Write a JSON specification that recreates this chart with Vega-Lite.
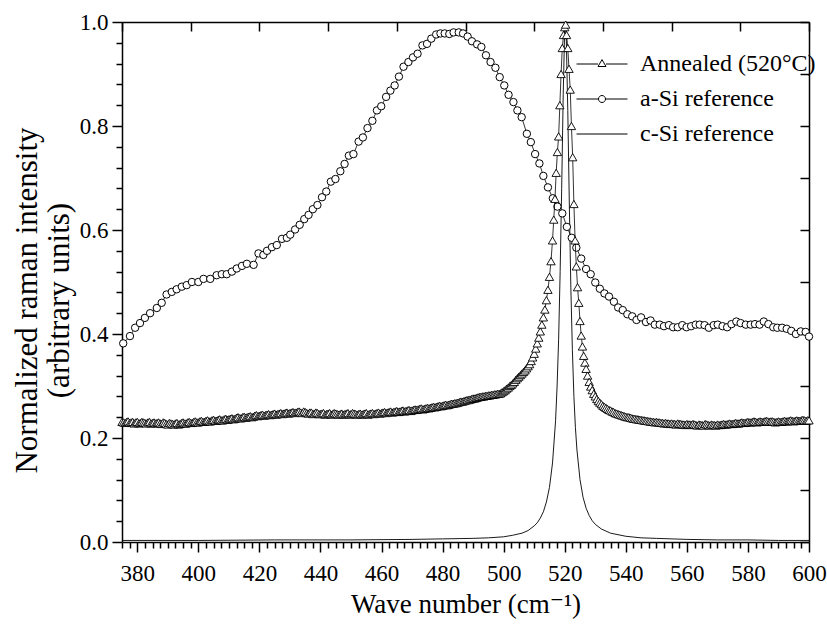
{
"$schema": "https://vega.github.io/schema/vega-lite/v6.json",
"width": 687, "height": 520,
"autosize": {"type": "none"},
"padding": {"left": 122, "top": 22, "right": 18, "bottom": 84},
"background": "white",
"datasets": {
"ann": [{"x":375,"y":0.231},{"x":375.5,"y":0.230},{"x":376,"y":0.229},{"x":376.5,"y":0.231},{"x":377,"y":0.232},{"x":377.5,"y":0.229},{"x":378,"y":0.230},{"x":378.5,"y":0.231},{"x":379,"y":0.228},{"x":379.5,"y":0.230},{"x":380,"y":0.231},{"x":380.5,"y":0.228},{"x":381,"y":0.229},{"x":381.5,"y":0.231},{"x":382,"y":0.230},{"x":382.5,"y":0.229},{"x":383,"y":0.228},{"x":383.5,"y":0.230},{"x":384,"y":0.231},{"x":384.5,"y":0.228},{"x":385,"y":0.229},{"x":385.5,"y":0.230},{"x":386,"y":0.228},{"x":386.5,"y":0.229},{"x":387,"y":0.230},{"x":387.5,"y":0.228},{"x":388,"y":0.227},{"x":388.5,"y":0.230},{"x":389,"y":0.229},{"x":389.5,"y":0.227},{"x":390,"y":0.226},{"x":390.5,"y":0.229},{"x":391,"y":0.228},{"x":391.5,"y":0.227},{"x":392,"y":0.226},{"x":392.5,"y":0.228},{"x":393,"y":0.229},{"x":393.5,"y":0.226},{"x":394,"y":0.227},{"x":394.5,"y":0.229},{"x":395,"y":0.230},{"x":395.5,"y":0.228},{"x":396,"y":0.228},{"x":396.5,"y":0.230},{"x":397,"y":0.231},{"x":397.5,"y":0.229},{"x":398,"y":0.229},{"x":398.5,"y":0.231},{"x":399,"y":0.232},{"x":399.5,"y":0.230},{"x":400,"y":0.230},{"x":400.5,"y":0.232},{"x":401,"y":0.233},{"x":401.5,"y":0.231},{"x":402,"y":0.231},{"x":402.5,"y":0.233},{"x":403,"y":0.234},{"x":403.5,"y":0.232},{"x":404,"y":0.232},{"x":404.5,"y":0.234},{"x":405,"y":0.235},{"x":405.5,"y":0.233},{"x":406,"y":0.233},{"x":406.5,"y":0.235},{"x":407,"y":0.236},{"x":407.5,"y":0.234},{"x":408,"y":0.234},{"x":408.5,"y":0.236},{"x":409,"y":0.237},{"x":409.5,"y":0.235},{"x":410,"y":0.236},{"x":410.5,"y":0.237},{"x":411,"y":0.238},{"x":411.5,"y":0.236},{"x":412,"y":0.237},{"x":412.5,"y":0.239},{"x":413,"y":0.240},{"x":413.5,"y":0.238},{"x":414,"y":0.238},{"x":414.5,"y":0.240},{"x":415,"y":0.241},{"x":415.5,"y":0.239},{"x":416,"y":0.240},{"x":416.5,"y":0.241},{"x":417,"y":0.242},{"x":417.5,"y":0.240},{"x":418,"y":0.241},{"x":418.5,"y":0.243},{"x":419,"y":0.244},{"x":419.5,"y":0.242},{"x":420,"y":0.243},{"x":420.5,"y":0.244},{"x":421,"y":0.245},{"x":421.5,"y":0.243},{"x":422,"y":0.244},{"x":422.5,"y":0.245},{"x":423,"y":0.246},{"x":423.5,"y":0.244},{"x":424,"y":0.245},{"x":424.5,"y":0.246},{"x":425,"y":0.247},{"x":425.5,"y":0.245},{"x":426,"y":0.246},{"x":426.5,"y":0.247},{"x":427,"y":0.248},{"x":427.5,"y":0.246},{"x":428,"y":0.247},{"x":428.5,"y":0.248},{"x":429,"y":0.249},{"x":429.5,"y":0.247},{"x":430,"y":0.248},{"x":430.5,"y":0.249},{"x":431,"y":0.250},{"x":431.5,"y":0.248},{"x":432,"y":0.249},{"x":432.5,"y":0.250},{"x":433,"y":0.251},{"x":433.5,"y":0.249},{"x":434,"y":0.248},{"x":434.5,"y":0.251},{"x":435,"y":0.250},{"x":435.5,"y":0.248},{"x":436,"y":0.247},{"x":436.5,"y":0.249},{"x":437,"y":0.249},{"x":437.5,"y":0.246},{"x":438,"y":0.247},{"x":438.5,"y":0.249},{"x":439,"y":0.248},{"x":439.5,"y":0.246},{"x":440,"y":0.246},{"x":440.5,"y":0.247},{"x":441,"y":0.248},{"x":441.5,"y":0.245},{"x":442,"y":0.246},{"x":442.5,"y":0.247},{"x":443,"y":0.248},{"x":443.5,"y":0.245},{"x":444,"y":0.246},{"x":444.5,"y":0.248},{"x":445,"y":0.247},{"x":445.5,"y":0.246},{"x":446,"y":0.245},{"x":446.5,"y":0.246},{"x":447,"y":0.247},{"x":447.5,"y":0.245},{"x":448,"y":0.246},{"x":448.5,"y":0.247},{"x":449,"y":0.248},{"x":449.5,"y":0.245},{"x":450,"y":0.246},{"x":450.5,"y":0.248},{"x":451,"y":0.247},{"x":451.5,"y":0.246},{"x":452,"y":0.245},{"x":452.5,"y":0.246},{"x":453,"y":0.247},{"x":453.5,"y":0.245},{"x":454,"y":0.246},{"x":454.5,"y":0.247},{"x":455,"y":0.248},{"x":455.5,"y":0.245},{"x":456,"y":0.246},{"x":456.5,"y":0.247},{"x":457,"y":0.248},{"x":457.5,"y":0.246},{"x":458,"y":0.247},{"x":458.5,"y":0.248},{"x":459,"y":0.249},{"x":459.5,"y":0.247},{"x":460,"y":0.248},{"x":460.5,"y":0.249},{"x":461,"y":0.250},{"x":461.5,"y":0.248},{"x":462,"y":0.249},{"x":462.5,"y":0.250},{"x":463,"y":0.251},{"x":463.5,"y":0.249},{"x":464,"y":0.250},{"x":464.5,"y":0.251},{"x":465,"y":0.252},{"x":465.5,"y":0.250},{"x":466,"y":0.251},{"x":466.5,"y":0.252},{"x":467,"y":0.253},{"x":467.5,"y":0.251},{"x":468,"y":0.252},{"x":468.5,"y":0.253},{"x":469,"y":0.254},{"x":469.5,"y":0.252},{"x":470,"y":0.253},{"x":470.5,"y":0.254},{"x":471,"y":0.255},{"x":471.5,"y":0.254},{"x":472,"y":0.255},{"x":472.5,"y":0.256},{"x":473,"y":0.257},{"x":473.5,"y":0.255},{"x":474,"y":0.256},{"x":474.5,"y":0.257},{"x":475,"y":0.258},{"x":475.5,"y":0.257},{"x":476,"y":0.258},{"x":476.5,"y":0.259},{"x":477,"y":0.260},{"x":477.5,"y":0.259},{"x":478,"y":0.260},{"x":478.5,"y":0.261},{"x":479,"y":0.262},{"x":479.5,"y":0.261},{"x":480,"y":0.262},{"x":480.5,"y":0.263},{"x":481,"y":0.264},{"x":481.5,"y":0.263},{"x":482,"y":0.264},{"x":482.5,"y":0.265},{"x":483,"y":0.266},{"x":483.5,"y":0.266},{"x":484,"y":0.267},{"x":484.5,"y":0.267},{"x":485,"y":0.268},{"x":485.5,"y":0.269},{"x":486,"y":0.270},{"x":486.5,"y":0.270},{"x":487,"y":0.271},{"x":487.5,"y":0.272},{"x":488,"y":0.273},{"x":488.5,"y":0.273},{"x":489,"y":0.274},{"x":489.5,"y":0.275},{"x":490,"y":0.276},{"x":490.5,"y":0.276},{"x":491,"y":0.277},{"x":491.5,"y":0.278},{"x":492,"y":0.279},{"x":492.5,"y":0.279},{"x":493,"y":0.280},{"x":493.5,"y":0.280},{"x":494,"y":0.281},{"x":494.5,"y":0.281},{"x":495,"y":0.282},{"x":495.5,"y":0.282},{"x":496,"y":0.283},{"x":496.5,"y":0.283},{"x":497,"y":0.284},{"x":497.5,"y":0.284},{"x":498,"y":0.285},{"x":498.5,"y":0.285},{"x":499,"y":0.286},{"x":499.5,"y":0.288},{"x":500,"y":0.290},{"x":500.5,"y":0.292},{"x":501,"y":0.295},{"x":501.5,"y":0.297},{"x":502,"y":0.300},{"x":502.5,"y":0.302},{"x":503,"y":0.305},{"x":503.5,"y":0.308},{"x":504,"y":0.312},{"x":504.5,"y":0.315},{"x":505,"y":0.318},{"x":505.5,"y":0.321},{"x":506,"y":0.324},{"x":506.5,"y":0.327},{"x":507,"y":0.330},{"x":507.5,"y":0.334},{"x":508,"y":0.338},{"x":508.5,"y":0.342},{"x":509,"y":0.348},{"x":509.5,"y":0.355},{"x":510,"y":0.362},{"x":510.5,"y":0.372},{"x":511,"y":0.382},{"x":511.5,"y":0.393},{"x":512,"y":0.405},{"x":512.5,"y":0.418},{"x":513,"y":0.432},{"x":513.5,"y":0.447},{"x":514,"y":0.465},{"x":514.5,"y":0.485},{"x":515,"y":0.510},{"x":515.5,"y":0.540},{"x":516,"y":0.580},{"x":516.4,"y":0.620},{"x":516.8,"y":0.660},{"x":517.2,"y":0.710},{"x":517.6,"y":0.750},{"x":518,"y":0.780},{"x":518.4,"y":0.840},{"x":518.8,"y":0.900},{"x":519.2,"y":0.950},{"x":519.6,"y":0.975},{"x":520,"y":0.990},{"x":520.3,"y":0.995},{"x":520.6,"y":0.975},{"x":521,"y":0.950},{"x":521.4,"y":0.910},{"x":521.8,"y":0.870},{"x":522.2,"y":0.800},{"x":522.6,"y":0.740},{"x":523,"y":0.650},{"x":523.4,"y":0.580},{"x":523.8,"y":0.530},{"x":524.2,"y":0.490},{"x":524.6,"y":0.460},{"x":525,"y":0.425},{"x":525.4,"y":0.397},{"x":525.8,"y":0.376},{"x":526.2,"y":0.358},{"x":526.6,"y":0.345},{"x":527,"y":0.333},{"x":527.5,"y":0.320},{"x":528,"y":0.308},{"x":528.5,"y":0.299},{"x":529,"y":0.292},{"x":529.5,"y":0.285},{"x":530,"y":0.280},{"x":530.5,"y":0.275},{"x":531,"y":0.271},{"x":531.5,"y":0.268},{"x":532,"y":0.265},{"x":532.5,"y":0.262},{"x":533,"y":0.260},{"x":533.5,"y":0.258},{"x":534,"y":0.256},{"x":534.5,"y":0.254},{"x":535,"y":0.253},{"x":535.5,"y":0.251},{"x":536,"y":0.250},{"x":536.5,"y":0.248},{"x":537,"y":0.247},{"x":537.5,"y":0.246},{"x":538,"y":0.245},{"x":538.5,"y":0.244},{"x":539,"y":0.243},{"x":539.5,"y":0.242},{"x":540,"y":0.241},{"x":540.5,"y":0.240},{"x":541,"y":0.240},{"x":541.5,"y":0.239},{"x":542,"y":0.238},{"x":542.5,"y":0.237},{"x":543,"y":0.237},{"x":543.5,"y":0.236},{"x":544,"y":0.236},{"x":544.5,"y":0.235},{"x":545,"y":0.235},{"x":545.5,"y":0.234},{"x":546,"y":0.234},{"x":546.5,"y":0.233},{"x":547,"y":0.233},{"x":547.5,"y":0.232},{"x":548,"y":0.232},{"x":548.5,"y":0.231},{"x":549,"y":0.231},{"x":549.5,"y":0.230},{"x":550,"y":0.231},{"x":550.5,"y":0.230},{"x":551,"y":0.230},{"x":551.5,"y":0.229},{"x":552,"y":0.229},{"x":552.5,"y":0.228},{"x":553,"y":0.229},{"x":553.5,"y":0.228},{"x":554,"y":0.228},{"x":554.5,"y":0.227},{"x":555,"y":0.228},{"x":555.5,"y":0.227},{"x":556,"y":0.227},{"x":556.5,"y":0.226},{"x":557,"y":0.228},{"x":557.5,"y":0.227},{"x":558,"y":0.227},{"x":558.5,"y":0.226},{"x":559,"y":0.226},{"x":559.5,"y":0.225},{"x":560,"y":0.227},{"x":560.5,"y":0.226},{"x":561,"y":0.226},{"x":561.5,"y":0.225},{"x":562,"y":0.227},{"x":562.5,"y":0.226},{"x":563,"y":0.225},{"x":563.5,"y":0.224},{"x":564,"y":0.226},{"x":564.5,"y":0.225},{"x":565,"y":0.225},{"x":565.5,"y":0.224},{"x":566,"y":0.227},{"x":566.5,"y":0.226},{"x":567,"y":0.225},{"x":567.5,"y":0.224},{"x":568,"y":0.226},{"x":568.5,"y":0.225},{"x":569,"y":0.225},{"x":569.5,"y":0.224},{"x":570,"y":0.226},{"x":570.5,"y":0.225},{"x":571,"y":0.225},{"x":571.5,"y":0.226},{"x":572,"y":0.227},{"x":572.5,"y":0.226},{"x":573,"y":0.226},{"x":573.5,"y":0.227},{"x":574,"y":0.228},{"x":574.5,"y":0.227},{"x":575,"y":0.227},{"x":575.5,"y":0.228},{"x":576,"y":0.229},{"x":576.5,"y":0.228},{"x":577,"y":0.228},{"x":577.5,"y":0.229},{"x":578,"y":0.230},{"x":578.5,"y":0.229},{"x":579,"y":0.229},{"x":579.5,"y":0.230},{"x":580,"y":0.231},{"x":580.5,"y":0.230},{"x":581,"y":0.230},{"x":581.5,"y":0.231},{"x":582,"y":0.232},{"x":582.5,"y":0.231},{"x":583,"y":0.230},{"x":583.5,"y":0.231},{"x":584,"y":0.232},{"x":584.5,"y":0.231},{"x":585,"y":0.231},{"x":585.5,"y":0.232},{"x":586,"y":0.233},{"x":586.5,"y":0.232},{"x":587,"y":0.231},{"x":587.5,"y":0.232},{"x":588,"y":0.232},{"x":588.5,"y":0.231},{"x":589,"y":0.230},{"x":589.5,"y":0.231},{"x":590,"y":0.232},{"x":590.5,"y":0.231},{"x":591,"y":0.231},{"x":591.5,"y":0.232},{"x":592,"y":0.233},{"x":592.5,"y":0.232},{"x":593,"y":0.232},{"x":593.5,"y":0.233},{"x":594,"y":0.234},{"x":594.5,"y":0.233},{"x":595,"y":0.232},{"x":595.5,"y":0.233},{"x":596,"y":0.234},{"x":596.5,"y":0.233},{"x":597,"y":0.233},{"x":597.5,"y":0.234},{"x":598,"y":0.235},{"x":598.5,"y":0.234},{"x":599,"y":0.233},{"x":599.5,"y":0.234},{"x":600,"y":0.234}],
"asi": [{"x":375.4,"y":0.382},{"x":377.6,"y":0.396},{"x":379.3,"y":0.412},{"x":380.9,"y":0.421},{"x":382.5,"y":0.431},{"x":384.2,"y":0.440},{"x":386.4,"y":0.450},{"x":388.0,"y":0.460},{"x":389.6,"y":0.476},{"x":391.3,"y":0.481},{"x":392.9,"y":0.486},{"x":394.6,"y":0.491},{"x":396.2,"y":0.494},{"x":397.9,"y":0.500},{"x":400.0,"y":0.500},{"x":401.7,"y":0.506},{"x":403.9,"y":0.506},{"x":406.0,"y":0.513},{"x":407.7,"y":0.515},{"x":409.3,"y":0.515},{"x":411.0,"y":0.520},{"x":412.6,"y":0.526},{"x":414.3,"y":0.531},{"x":415.9,"y":0.535},{"x":418.1,"y":0.533},{"x":419.7,"y":0.555},{"x":421.3,"y":0.552},{"x":422.5,"y":0.560},{"x":424.1,"y":0.567},{"x":425.7,"y":0.571},{"x":427.4,"y":0.583},{"x":429.0,"y":0.585},{"x":430.1,"y":0.591},{"x":431.7,"y":0.601},{"x":433.2,"y":0.610},{"x":434.7,"y":0.621},{"x":436.1,"y":0.629},{"x":437.5,"y":0.640},{"x":439.0,"y":0.648},{"x":440.5,"y":0.663},{"x":441.9,"y":0.674},{"x":443.4,"y":0.693},{"x":444.9,"y":0.698},{"x":446.5,"y":0.713},{"x":447.9,"y":0.727},{"x":449.3,"y":0.743},{"x":450.8,"y":0.746},{"x":452.5,"y":0.770},{"x":453.9,"y":0.778},{"x":455.4,"y":0.796},{"x":457.0,"y":0.810},{"x":458.5,"y":0.830},{"x":459.9,"y":0.838},{"x":461.5,"y":0.856},{"x":462.9,"y":0.868},{"x":464.3,"y":0.878},{"x":465.7,"y":0.895},{"x":467.2,"y":0.914},{"x":468.8,"y":0.923},{"x":470.3,"y":0.932},{"x":471.8,"y":0.939},{"x":473.4,"y":0.955},{"x":474.9,"y":0.958},{"x":476.3,"y":0.968},{"x":477.9,"y":0.976},{"x":479.3,"y":0.978},{"x":480.7,"y":0.978},{"x":482.2,"y":0.977},{"x":483.6,"y":0.980},{"x":485.3,"y":0.980},{"x":486.7,"y":0.978},{"x":488.2,"y":0.972},{"x":489.6,"y":0.963},{"x":491.3,"y":0.957},{"x":492.7,"y":0.952},{"x":494.2,"y":0.936},{"x":495.7,"y":0.923},{"x":497.3,"y":0.912},{"x":498.7,"y":0.894},{"x":500.2,"y":0.878},{"x":501.6,"y":0.860},{"x":503.2,"y":0.846},{"x":504.5,"y":0.830},{"x":505.9,"y":0.817},{"x":507.6,"y":0.785},{"x":508.9,"y":0.769},{"x":510.3,"y":0.746},{"x":511.7,"y":0.728},{"x":513.0,"y":0.704},{"x":514.5,"y":0.682},{"x":516.1,"y":0.661},{"x":517.6,"y":0.645},{"x":519.2,"y":0.632},{"x":520.7,"y":0.606},{"x":522.3,"y":0.585},{"x":523.8,"y":0.566},{"x":525.4,"y":0.545},{"x":527.0,"y":0.525},{"x":528.5,"y":0.515},{"x":530.0,"y":0.499},{"x":531.5,"y":0.487},{"x":533.0,"y":0.478},{"x":534.5,"y":0.472},{"x":536.1,"y":0.462},{"x":537.5,"y":0.451},{"x":539.0,"y":0.446},{"x":540.5,"y":0.438},{"x":542.1,"y":0.434},{"x":543.5,"y":0.427},{"x":545.0,"y":0.432},{"x":546.6,"y":0.423},{"x":548.1,"y":0.426},{"x":549.5,"y":0.418},{"x":551.1,"y":0.418},{"x":552.5,"y":0.415},{"x":554.1,"y":0.417},{"x":555.5,"y":0.413},{"x":557.0,"y":0.413},{"x":558.5,"y":0.417},{"x":559.9,"y":0.413},{"x":561.4,"y":0.415},{"x":562.9,"y":0.418},{"x":564.2,"y":0.418},{"x":565.8,"y":0.417},{"x":567.2,"y":0.412},{"x":568.8,"y":0.417},{"x":570.1,"y":0.418},{"x":571.7,"y":0.415},{"x":573.2,"y":0.413},{"x":574.6,"y":0.419},{"x":576.2,"y":0.424},{"x":577.6,"y":0.421},{"x":579.3,"y":0.418},{"x":580.9,"y":0.418},{"x":582.3,"y":0.419},{"x":583.8,"y":0.418},{"x":585.2,"y":0.424},{"x":586.7,"y":0.419},{"x":588.3,"y":0.413},{"x":589.6,"y":0.412},{"x":591.2,"y":0.412},{"x":592.7,"y":0.410},{"x":594.2,"y":0.406},{"x":595.7,"y":0.400},{"x":597.3,"y":0.405},{"x":598.9,"y":0.404},{"x":600.0,"y":0.395}],
"csi": [{"x":375,"y":0.003},{"x":400,"y":0.003},{"x":425,"y":0.004},{"x":450,"y":0.004},{"x":470,"y":0.005},{"x":480,"y":0.006},{"x":490,"y":0.007},{"x":495,"y":0.008},{"x":500,"y":0.010},{"x":503,"y":0.013},{"x":506,"y":0.017},{"x":508,"y":0.022},{"x":510,"y":0.031},{"x":511,"y":0.037},{"x":512,"y":0.046},{"x":513,"y":0.058},{"x":514,"y":0.077},{"x":515,"y":0.105},{"x":516,"y":0.152},{"x":517,"y":0.233},{"x":517.5,"y":0.30},{"x":518,"y":0.39},{"x":518.5,"y":0.52},{"x":519,"y":0.68},{"x":519.5,"y":0.86},{"x":520,"y":0.99},{"x":520.2,"y":1.0},{"x":520.5,"y":0.97},{"x":521,"y":0.83},{"x":521.5,"y":0.65},{"x":522,"y":0.49},{"x":522.5,"y":0.37},{"x":523,"y":0.28},{"x":523.5,"y":0.22},{"x":524,"y":0.177},{"x":525,"y":0.12},{"x":526,"y":0.086},{"x":527,"y":0.065},{"x":528,"y":0.051},{"x":529,"y":0.041},{"x":530,"y":0.034},{"x":532,"y":0.025},{"x":535,"y":0.017},{"x":540,"y":0.011},{"x":545,"y":0.008},{"x":550,"y":0.007},{"x":560,"y":0.005},{"x":570,"y":0.004},{"x":580,"y":0.004},{"x":590,"y":0.003},{"x":600,"y":0.003}],
"leg": [{"series":"Annealed (520°C)","x":520,"y":1},{"series":"a-Si reference","x":520,"y":1},{"series":"c-Si reference","x":520,"y":1}]
},
"resolve": {"axis": {"x": "independent", "y": "independent"}},
"layer": [
{"data": {"name": "csi"},
 "mark": {"type": "line", "color": "black", "strokeWidth": 0.9},
 "encoding": {
  "x": {"field": "x", "type": "quantitative", "scale": {"domain": [375, 600], "nice": false, "zero": false},
   "axis": {"orient": "bottom", "values": [375,377.5,380,382.5,385,387.5,390,392.5,395,397.5,400,402.5,405,407.5,410,412.5,415,417.5,420,422.5,425,427.5,430,432.5,435,437.5,440,442.5,445,447.5,450,452.5,455,457.5,460,462.5,465,467.5,470,472.5,475,477.5,480,482.5,485,487.5,490,492.5,495,497.5,500,502.5,505,507.5,510,512.5,515,517.5,520,522.5,525,527.5,530,532.5,535,537.5,540,542.5,545,547.5,550,552.5,555,557.5,560,562.5,565,567.5,570,572.5,575,577.5,580,582.5,585,587.5,590,592.5,595,597.5,600],
    "tickSize": {"condition": {"test": "datum.value % 20 === 0", "value": 10}, "value": 6},
    "labelExpr": "datum.value % 20 === 0 ? format(datum.value, 'd') : ''",
    "labelFont": "Liberation Serif, Times New Roman, Times, DejaVu Serif, serif", "labelFontSize": 23, "labelPadding": 10, "labelOverlap": false, "labelFlush": false, "labelBound": false,
    "title": "Wave number (cm⁻¹)", "titleFont": "Liberation Serif, Times New Roman, Times, DejaVu Serif, serif", "titleFontSize": 27, "titlePadding": 6,
    "domainWidth": 1.5, "tickWidth": 1.5}},
  "y": {"field": "y", "type": "quantitative", "scale": {"domain": [0, 1], "nice": false, "zero": false},
   "axis": {"orient": "left", "values": [0,0.04,0.08,0.12,0.16,0.2,0.24,0.28,0.32,0.36,0.4,0.44,0.48,0.52,0.56,0.6,0.64,0.68,0.72,0.76,0.8,0.84,0.88,0.92,0.96,1],
    "tickSize": {"condition": {"test": "abs(datum.value*5 - round(datum.value*5)) < 0.001", "value": 10}, "value": 6},
    "labelExpr": "abs(datum.value*5 - round(datum.value*5)) < 0.001 ? format(datum.value, '.1f') : ''",
    "labelFont": "Liberation Serif, Times New Roman, Times, DejaVu Serif, serif", "labelFontSize": 23, "labelPadding": 4, "labelOverlap": false, "labelFlush": false, "labelBound": false,
    "title": ["Normalized raman intensity", "(arbitrary units)"], "titleFont": "Liberation Serif, Times New Roman, Times, DejaVu Serif, serif", "titleFontSize": 31, "titleLineHeight": 32, "titlePadding": 4, "titleY": 278,
    "domainWidth": 1.5, "tickWidth": 1.5}}
 }},
{"data": {"name": "asi"},
 "mark": {"type": "line", "color": "black", "strokeWidth": 0.8},
 "encoding": {
  "x": {"field": "x", "type": "quantitative", "scale": {"domain": [375, 600], "nice": false, "zero": false}, "axis": null},
  "y": {"field": "y", "type": "quantitative", "scale": {"domain": [0, 1], "nice": false, "zero": false}, "axis": null}
 }},
{"data": {"name": "asi"},
 "mark": {"type": "point", "shape": "circle", "size": 55, "filled": true, "fill": "white", "stroke": "black", "strokeWidth": 1, "opacity": 1},
 "encoding": {
  "x": {"field": "x", "type": "quantitative", "scale": {"domain": [375, 600], "nice": false, "zero": false}, "axis": null},
  "y": {"field": "y", "type": "quantitative", "scale": {"domain": [0, 1], "nice": false, "zero": false}, "axis": null}
 }},
{"data": {"name": "ann"},
 "mark": {"type": "line", "color": "black", "strokeWidth": 0.8},
 "encoding": {
  "x": {"field": "x", "type": "quantitative", "scale": {"domain": [375, 600], "nice": false, "zero": false}, "axis": null},
  "y": {"field": "y", "type": "quantitative", "scale": {"domain": [0, 1], "nice": false, "zero": false}, "axis": null}
 }},
{"data": {"name": "ann"},
 "mark": {"type": "point", "shape": "triangle-up", "size": 70, "filled": true, "fill": "white", "stroke": "black", "strokeWidth": 0.9, "opacity": 1},
 "encoding": {
  "x": {"field": "x", "type": "quantitative", "scale": {"domain": [375, 600], "nice": false, "zero": false},
   "axis": {"orient": "top", "values": [375,397.5,420,442.5,465,487.5,510,532.5,555,577.5,600], "tickSize": -9, "labels": false, "title": null, "domainWidth": 1.5, "tickWidth": 1.5}},
  "y": {"field": "y", "type": "quantitative", "scale": {"domain": [0, 1], "nice": false, "zero": false},
   "axis": {"orient": "right", "values": [0,0.1,0.2,0.3,0.4,0.5,0.6,0.7,0.8,0.9,1], "tickSize": -9, "labels": false, "title": null, "domainWidth": 1.5, "tickWidth": 1.5}}
 }},
{"data": {"name": "leg"},
 "mark": {"type": "point", "filled": false, "color": "black", "strokeWidth": 1, "opacity": 0},
 "encoding": {
  "x": {"field": "x", "type": "quantitative", "scale": {"domain": [375, 600], "nice": false, "zero": false}, "axis": null},
  "y": {"field": "y", "type": "quantitative", "scale": {"domain": [0, 1], "nice": false, "zero": false}, "axis": null},
  "shape": {"field": "series", "type": "nominal",
   "scale": {"domain": ["Annealed (520°C)", "a-Si reference", "c-Si reference"],
    "range": ["M-2.55,0H-0.4M0.4,0H2.55M-0.4,0.25L0,-0.44L0.4,0.25Z", "M-2.55,0H-0.35M0.35,0H2.55M0.35,0A0.35,0.35,0,1,1,-0.35,0A0.35,0.35,0,1,1,0.35,0", "M-2.55,0H2.55"]},
   "legend": {"orient": "none", "legendX": 468, "legendY": 30, "title": null, "padding": 0,
    "labelFont": "Liberation Serif, Times New Roman, Times, DejaVu Serif, serif", "labelFontSize": 24, "labelColor": "black", "labelOffset": 26, "labelLimit": 400,
    "symbolSize": 400, "symbolStrokeColor": "black", "symbolStrokeWidth": 1, "symbolOpacity": 1, "rowPadding": 11}}
 }}
],
"config": {
 "font": "Liberation Serif, Times New Roman, Times, DejaVu Serif, serif",
 "view": {"stroke": null},
 "axis": {"grid": false, "domainColor": "black", "tickColor": "black", "labelColor": "black", "titleColor": "black", "titleFontWeight": "normal"}
}
}
